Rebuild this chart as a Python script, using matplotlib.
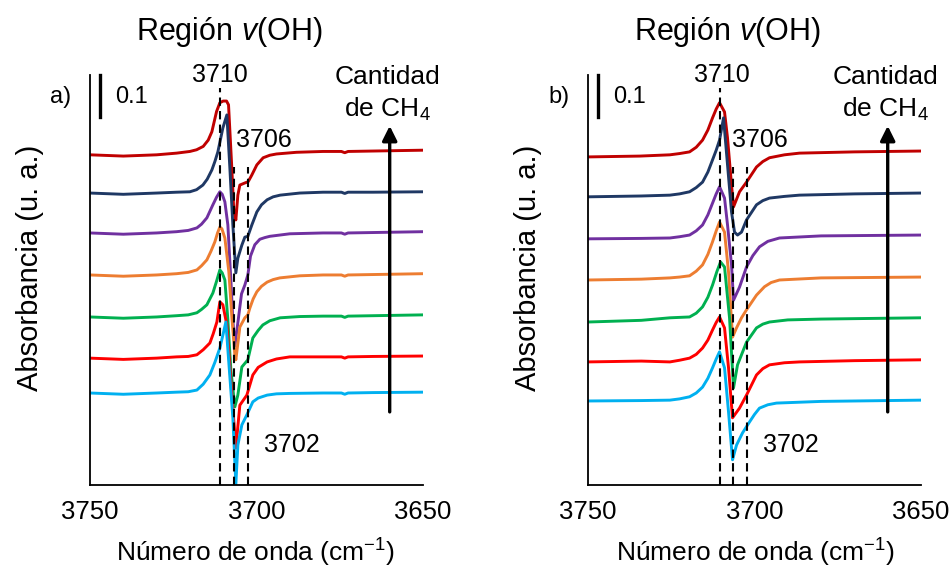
import matplotlib
matplotlib.use("Agg")
import matplotlib.pyplot as plt

plt.rcParams['font.family'] = 'Liberation Sans'
plt.rcParams['mathtext.fontset'] = 'custom'
plt.rcParams['mathtext.rm'] = 'Liberation Sans'
plt.rcParams['mathtext.it'] = 'Liberation Sans:italic'

# colores (de arriba hacia abajo)
colores = ['#C00000', '#1F3864', '#7030A0', '#ED7D31', '#00B050', '#FF0000', '#00B0F0']

# ---- panel a) ----
a_x_rojo_osc = [3750, 3740, 3730, 3724, 3720, 3718, 3716, 3714.5, 3713.4, 3712, 3711, 3710, 3709, 3708.4, 3707.4,
                3706.8, 3706.2, 3705.6, 3705, 3703.5, 3702.5, 3701.4, 3699.9, 3698, 3696, 3694, 3688, 3680, 3674.5,
                3673.5, 3672.5, 3665, 3650]
a_y_rojo_osc = [0.786, 0.783, 0.786, 0.790, 0.794, 0.798, 0.806, 0.821, 0.841, 0.889, 0.910, 0.914, 0.914, 0.905, 0.752,
                0.650, 0.631, 0.690, 0.714, 0.719, 0.722, 0.738, 0.762, 0.779, 0.785, 0.788, 0.792, 0.794, 0.794,
                0.791, 0.794, 0.795, 0.797]

a_x_azul_osc = [3750, 3740, 3730, 3724, 3720, 3718, 3716.1, 3714.8, 3713.4, 3712.5, 3711.6, 3710.1, 3708.9, 3708.0,
                3707.1, 3706.2, 3705.6, 3704.4, 3703.5, 3702.6, 3701.4, 3699.9, 3698.5, 3696.8, 3695, 3692.9, 3687,
                3680, 3674.5, 3673.5, 3672.5, 3665, 3650]
a_y_azul_osc = [0.695, 0.692, 0.695, 0.697, 0.698, 0.703, 0.714, 0.728, 0.750, 0.770, 0.793, 0.850, 0.881, 0.755,
                0.619, 0.505, 0.540, 0.571, 0.590, 0.592, 0.619, 0.650, 0.667, 0.679, 0.686, 0.690, 0.695,
                0.697, 0.697, 0.694, 0.697, 0.697, 0.698]

a_x_morado = [3750, 3740, 3730, 3724, 3720.5, 3717.9, 3716.5, 3714.9, 3713.1, 3712, 3711.0, 3710.3, 3709.5, 3708.6,
              3707.7, 3707.1, 3706.5, 3705.6, 3704.5, 3703.5, 3702.6, 3701.8, 3700.5, 3699, 3697.5, 3696, 3690, 3680,
              3674.5, 3673.5, 3672.5, 3665, 3650]
a_y_morado = [0.600, 0.597, 0.600, 0.603, 0.606, 0.612, 0.621, 0.636, 0.667, 0.685, 0.698, 0.692, 0.674, 0.619,
              0.488, 0.393, 0.331, 0.386, 0.455, 0.476, 0.500, 0.545, 0.572, 0.585, 0.589, 0.592, 0.598, 0.600,
              0.600, 0.597, 0.600, 0.601, 0.603]

a_x_naranja = [3750, 3740, 3730, 3724, 3720.5, 3717.9, 3716.5, 3714.9, 3713.7, 3712.5, 3711.7, 3711.0, 3710.4, 3709.5,
               3708.3, 3707.4, 3706.5, 3706.2, 3705.0, 3703.5, 3702.6, 3702.0, 3701, 3699.9, 3698.5, 3696.8, 3695,
               3693, 3687, 3680, 3674.5, 3673.5, 3672.5, 3665, 3650]
a_y_naranja = [0.500, 0.497, 0.500, 0.503, 0.506, 0.512, 0.522, 0.536, 0.556, 0.579, 0.600, 0.614, 0.610, 0.588,
               0.507, 0.400, 0.310, 0.298, 0.376, 0.398, 0.405, 0.421, 0.443, 0.460, 0.473, 0.483, 0.489,
               0.493, 0.498, 0.500, 0.500, 0.497, 0.500, 0.501, 0.503]

a_x_verde = [3750, 3740, 3730, 3724, 3720.5, 3717.9, 3716.5, 3714.9, 3713.1, 3712, 3711.0, 3710.3, 3709.5, 3708.6,
             3707.7, 3706.5, 3705.6, 3704.4, 3702.6, 3701.1, 3699.5, 3698.1, 3696, 3692.9, 3687, 3680, 3674.5,
             3673.5, 3672.5, 3665, 3650]
a_y_verde = [0.400, 0.397, 0.400, 0.403, 0.405, 0.410, 0.418, 0.429, 0.457, 0.485, 0.512, 0.505, 0.488, 0.393,
             0.274, 0.186, 0.214, 0.281, 0.298, 0.350, 0.368, 0.381, 0.391, 0.398, 0.401, 0.402, 0.402,
             0.399, 0.402, 0.403, 0.405]

a_x_rojo = [3750, 3740, 3730, 3724, 3720.5, 3717.9, 3716, 3714.0, 3713, 3711.9, 3711.0, 3710.1, 3708.9, 3707.5,
            3706.2, 3705.0, 3702.9, 3701.1, 3699.5, 3696.8, 3694, 3690, 3680, 3674.5, 3673.5, 3672.5, 3665, 3650]
a_y_rojo = [0.302, 0.299, 0.302, 0.305, 0.306, 0.310, 0.322, 0.338, 0.360, 0.388, 0.436, 0.429, 0.381, 0.226,
            0.088, 0.190, 0.214, 0.262, 0.280, 0.293, 0.300, 0.305, 0.305, 0.305, 0.302, 0.305, 0.306, 0.307]

a_x_celeste = [3750, 3740, 3730, 3724, 3720.5, 3717.9, 3716, 3714.0, 3712.5, 3711.0, 3710, 3709.2, 3707.1, 3706.2,
               3705.6, 3704.4, 3702.9, 3701.1, 3699.5, 3696.8, 3694, 3690, 3680, 3674.5, 3673.5, 3672.5, 3665, 3650]
a_y_celeste = [0.219, 0.216, 0.219, 0.221, 0.222, 0.226, 0.240, 0.262, 0.292, 0.326, 0.360, 0.388, 0.160, 0.002,
               0.095, 0.143, 0.167, 0.198, 0.207, 0.214, 0.217, 0.218, 0.219, 0.219, 0.216, 0.219, 0.220, 0.221]

# ---- panel b) ----
b_x_rojo_osc = [3750, 3734.4, 3725.4, 3722.5, 3719.5, 3717.5, 3715.6, 3714, 3712.6, 3711.5, 3710.5, 3709.0, 3708.1,
                3706.9, 3706.3, 3704.5, 3702.4, 3699.4, 3697.5, 3695.5, 3691, 3686.5, 3670, 3650]
b_y_rojo_osc = [0.781, 0.783, 0.786, 0.789, 0.793, 0.804, 0.821, 0.845, 0.874, 0.895, 0.910, 0.888, 0.826,
                0.714, 0.662, 0.698, 0.721, 0.757, 0.770, 0.779, 0.786, 0.790, 0.793, 0.795]

b_x_azul_osc = [3750, 3734, 3725.4, 3722.5, 3719.5, 3717.5, 3715.6, 3714, 3712.6, 3711.5, 3710.5, 3709.3, 3708.1,
                3706.9, 3706.0, 3705.1, 3703.9, 3702.4, 3699.4, 3697.5, 3695.5, 3691, 3686.5, 3670, 3650]
b_y_azul_osc = [0.686, 0.688, 0.690, 0.693, 0.698, 0.708, 0.721, 0.745, 0.774, 0.797, 0.821, 0.874, 0.762,
                0.650, 0.602, 0.595, 0.602, 0.631, 0.667, 0.677, 0.683, 0.687, 0.690, 0.693, 0.695]

b_x_morado = [3750, 3734, 3725.4, 3722.5, 3719.5, 3717.5, 3715.6, 3714, 3712.6, 3711.5, 3710.5, 3709.0, 3708.1,
              3706.9, 3706.3, 3704.5, 3702.4, 3700.5, 3698.5, 3696, 3692.5, 3680, 3650]
b_y_morado = [0.586, 0.587, 0.588, 0.591, 0.595, 0.605, 0.619, 0.643, 0.671, 0.693, 0.710, 0.683, 0.619,
              0.524, 0.440, 0.471, 0.519, 0.546, 0.567, 0.580, 0.588, 0.593, 0.595]

b_x_naranja = [3750, 3734, 3725.4, 3722.5, 3719.5, 3717.5, 3715.6, 3714, 3712.6, 3711.5, 3710.5, 3709.0, 3707.8,
               3706.6, 3705.4, 3703.9, 3702.4, 3699.4, 3697, 3695, 3692.5, 3680, 3650]
b_y_naranja = [0.488, 0.490, 0.493, 0.495, 0.498, 0.509, 0.524, 0.549, 0.579, 0.605, 0.626, 0.602, 0.507,
               0.352, 0.374, 0.398, 0.417, 0.452, 0.472, 0.482, 0.488, 0.493, 0.495]

b_x_verde = [3750, 3734, 3725.4, 3722.5, 3719.5, 3717.5, 3715.6, 3714, 3712.6, 3711.3, 3710.2, 3709.0, 3707.5,
             3706.3, 3705.1, 3702.4, 3699.4, 3697.5, 3695.5, 3690, 3680, 3650]
b_y_verde = [0.388, 0.392, 0.398, 0.399, 0.400, 0.409, 0.424, 0.447, 0.476, 0.508, 0.531, 0.519, 0.398,
             0.231, 0.286, 0.340, 0.374, 0.383, 0.388, 0.393, 0.395, 0.398]

b_x_rojo = [3750, 3734, 3725.4, 3722.5, 3719.5, 3717.5, 3715.6, 3714, 3712.6, 3711.5, 3710.5, 3709.0, 3707.8,
            3706.6, 3704.5, 3702.4, 3699.4, 3697.5, 3695.5, 3691, 3686.5, 3670, 3650]
b_y_rojo = [0.293, 0.295, 0.293, 0.297, 0.302, 0.311, 0.326, 0.345, 0.369, 0.387, 0.400, 0.374, 0.279,
            0.160, 0.183, 0.214, 0.262, 0.277, 0.286, 0.291, 0.293, 0.296, 0.298]

b_x_celeste = [3750, 3734, 3725.4, 3722.5, 3719.5, 3717.5, 3715.6, 3714, 3712.6, 3711.5, 3710.5, 3709.0, 3707.8,
               3706.6, 3705.4, 3703.6, 3701.5, 3700, 3698.5, 3696, 3693.4, 3680, 3650]
b_y_celeste = [0.200, 0.201, 0.202, 0.205, 0.210, 0.219, 0.233, 0.254, 0.279, 0.300, 0.317, 0.279, 0.174,
               0.060, 0.095, 0.124, 0.150, 0.168, 0.183, 0.191, 0.195, 0.199, 0.202]

# lineas de referencia (posicion, altura superior)
a_picos = [3711.0, 3706.8, 3702.6]
b_picos = [3710.5, 3706.6, 3702.4]
picos_tope = [0.945, 0.757, 0.757]
etiquetas_picos = ['3710', '3706', '3702']

trazas_a = [(a_x_rojo_osc, a_y_rojo_osc), (a_x_azul_osc, a_y_azul_osc), (a_x_morado, a_y_morado),
            (a_x_naranja, a_y_naranja), (a_x_verde, a_y_verde), (a_x_rojo, a_y_rojo), (a_x_celeste, a_y_celeste)]
trazas_b = [(b_x_rojo_osc, b_y_rojo_osc), (b_x_azul_osc, b_y_azul_osc), (b_x_morado, b_y_morado),
            (b_x_naranja, b_y_naranja), (b_x_verde, b_y_verde), (b_x_rojo, b_y_rojo), (b_x_celeste, b_y_celeste)]

W, H = 953, 568
fig = plt.figure(figsize=(W / 100, H / 100), dpi=100)


def panel(left_px, trazas, picos, letra, etq_x):
    ax = fig.add_axes([left_px / W, (H - 485) / H, 333 / W, 410 / H])
    for (x, y), c in zip(trazas, colores):
        ax.plot(x, y, color=c, lw=2.1, solid_joinstyle='round')
    for p, t in zip(picos, picos_tope):
        ax.plot([p, p], [0, t], color='k', lw=1.5, ls=(0, (4, 2.5)), zorder=5)
    ax.set_xlim(3750, 3650)
    ax.set_ylim(0, 0.976)
    ax.set_xticks([3750, 3700, 3650])
    ax.set_yticks([])
    ax.tick_params(axis='x', length=0, pad=11, labelsize=18.5)
    for s in ['top', 'right']:
        ax.spines[s].set_visible(False)
    for s in ['left', 'bottom']:
        ax.spines[s].set_linewidth(1.3)
    # barra de escala 0.1
    ax.plot([3747, 3747], [0.876, 0.976], color='k', lw=2.4, clip_on=False)
    ax.text(3737.4, 0.924, '0.1', fontsize=17, ha='center', va='center')
    ax.text(3758.7, 0.924, letra, fontsize=17, ha='center', va='center')
    # etiquetas de picos
    ax.text(etq_x[0], 0.976, etiquetas_picos[0], fontsize=18, ha='center', va='center')
    ax.text(etq_x[1], 0.821, etiquetas_picos[1], fontsize=18, ha='center', va='center')
    ax.text(etq_x[2], 0.095, etiquetas_picos[2], fontsize=18, ha='center', va='center')
    # flecha cantidad de CH4
    ax.annotate('', xy=(3660, 0.855), xytext=(3660, 0.174),
                arrowprops=dict(arrowstyle='-|>', lw=2.4, color='k', mutation_scale=22, shrinkA=0, shrinkB=0))
    ax.text(3660.8, 0.971, 'Cantidad', fontsize=19, ha='center', va='center')
    ax.text(3660.8, 0.893, 'de CH$_4$', fontsize=19, ha='center', va='center')
    return ax


ax1 = panel(90, trazas_a, a_picos, 'a)', [3711.0, 3697.8, 3689.3])
ax2 = panel(588, trazas_b, b_picos, 'b)', [3709.9, 3698.5, 3689.2])

for cx in [229, 727]:
    fig.text(cx / W, 1 - 32 / H, 'Región $\\mathit{v}$(OH)', fontsize=22, ha='center', va='center')
for cx in [255, 755]:
    fig.text(cx / W, 1 - 553 / H, 'Número de onda (cm$^{-1}$)', fontsize=19, ha='center', va='center')
for cx in [30, 528]:
    fig.text(cx / W, 1 - 268 / H, 'Absorbancia (u. a.)', fontsize=21, rotation=90, ha='center', va='center')

fig.savefig('out.png', dpi=100)
